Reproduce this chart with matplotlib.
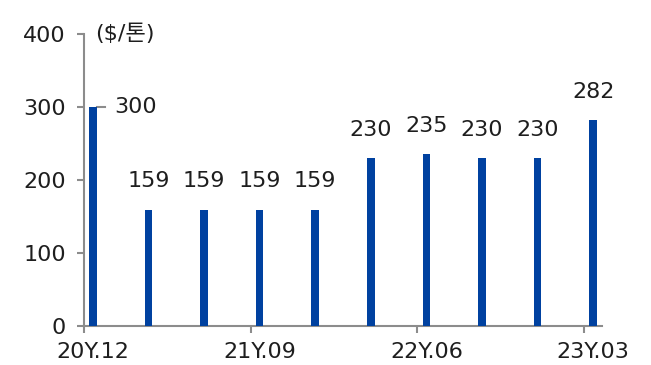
import numpy as np
import matplotlib.pyplot as plt

plt.rcParams['font.family'] = ['DejaVu Sans', 'Noto Sans CJK KR']

# quarterly price, $/ton
quarters = ['20Y.12', '21Y.03', '21Y.06', '21Y.09', '21Y.12',
            '22Y.03', '22Y.06', '22Y.09', '22Y.12', '23Y.03']
prices = [300, 159, 159, 159, 159, 230, 235, 230, 230, 282]
yticks = [0, 100, 200, 300, 400]

bar_color = '#0041A0'
axis_color = '#8C8C8C'
text_color = '#1E1E1E'
fs = 16

fig = plt.figure(figsize=(6.51, 3.65), dpi=100)
ax = fig.add_axes([84 / 651, 1 - 325.5 / 365, (602 - 84) / 651, (325.5 - 34) / 365])

x = np.arange(len(quarters))
offset = 0.16
ax.bar(x + offset, prices, width=0.135, color=bar_color, zorder=3)

ax.set_xlim(0, 9.32)
ax.set_ylim(0, 400)
ax.set_yticks(yticks)
ax.set_yticklabels([str(v) for v in yticks])

# tick marks sit on category edges, labels under the bars
ax.set_xticks(x[::3])
ax.set_xticklabels([])
ax.set_xticks(x[::3] + offset, minor=True)
ax.set_xticklabels(quarters[::3], minor=True)

for side in ['top', 'right']:
    ax.spines[side].set_visible(False)
for side in ['left', 'bottom']:
    ax.spines[side].set_color(axis_color)
    ax.spines[side].set_linewidth(1.5)
ax.tick_params(axis='y', direction='out', length=5, width=1.5, color=axis_color,
               labelsize=fs, labelcolor=text_color, pad=8)
ax.tick_params(axis='x', which='major', direction='out', length=5, width=1.5,
               color=axis_color)
ax.tick_params(axis='x', which='minor', length=0, labelsize=fs,
               labelcolor=text_color, pad=12)

# first bar gets its label on the side, with a short leader line
first = prices[0]
ax.plot([offset + 0.07, offset + 0.22], [first, first], color=axis_color, lw=1.5,
        zorder=2, clip_on=False)
ax.text(offset + 0.38, first, str(first), ha='left', va='center',
        fontsize=fs, color=text_color)

for xi, v in zip(x[1:], prices[1:]):
    ax.annotate(str(v), (xi + offset, v), xytext=(0, 16), textcoords='offset points',
                ha='center', va='baseline', fontsize=fs, color=text_color)

ax.text(0.2, 400, '($/톤)', ha='left', va='center', fontsize=fs, color=text_color)

fig.savefig('out.png', dpi=100)
